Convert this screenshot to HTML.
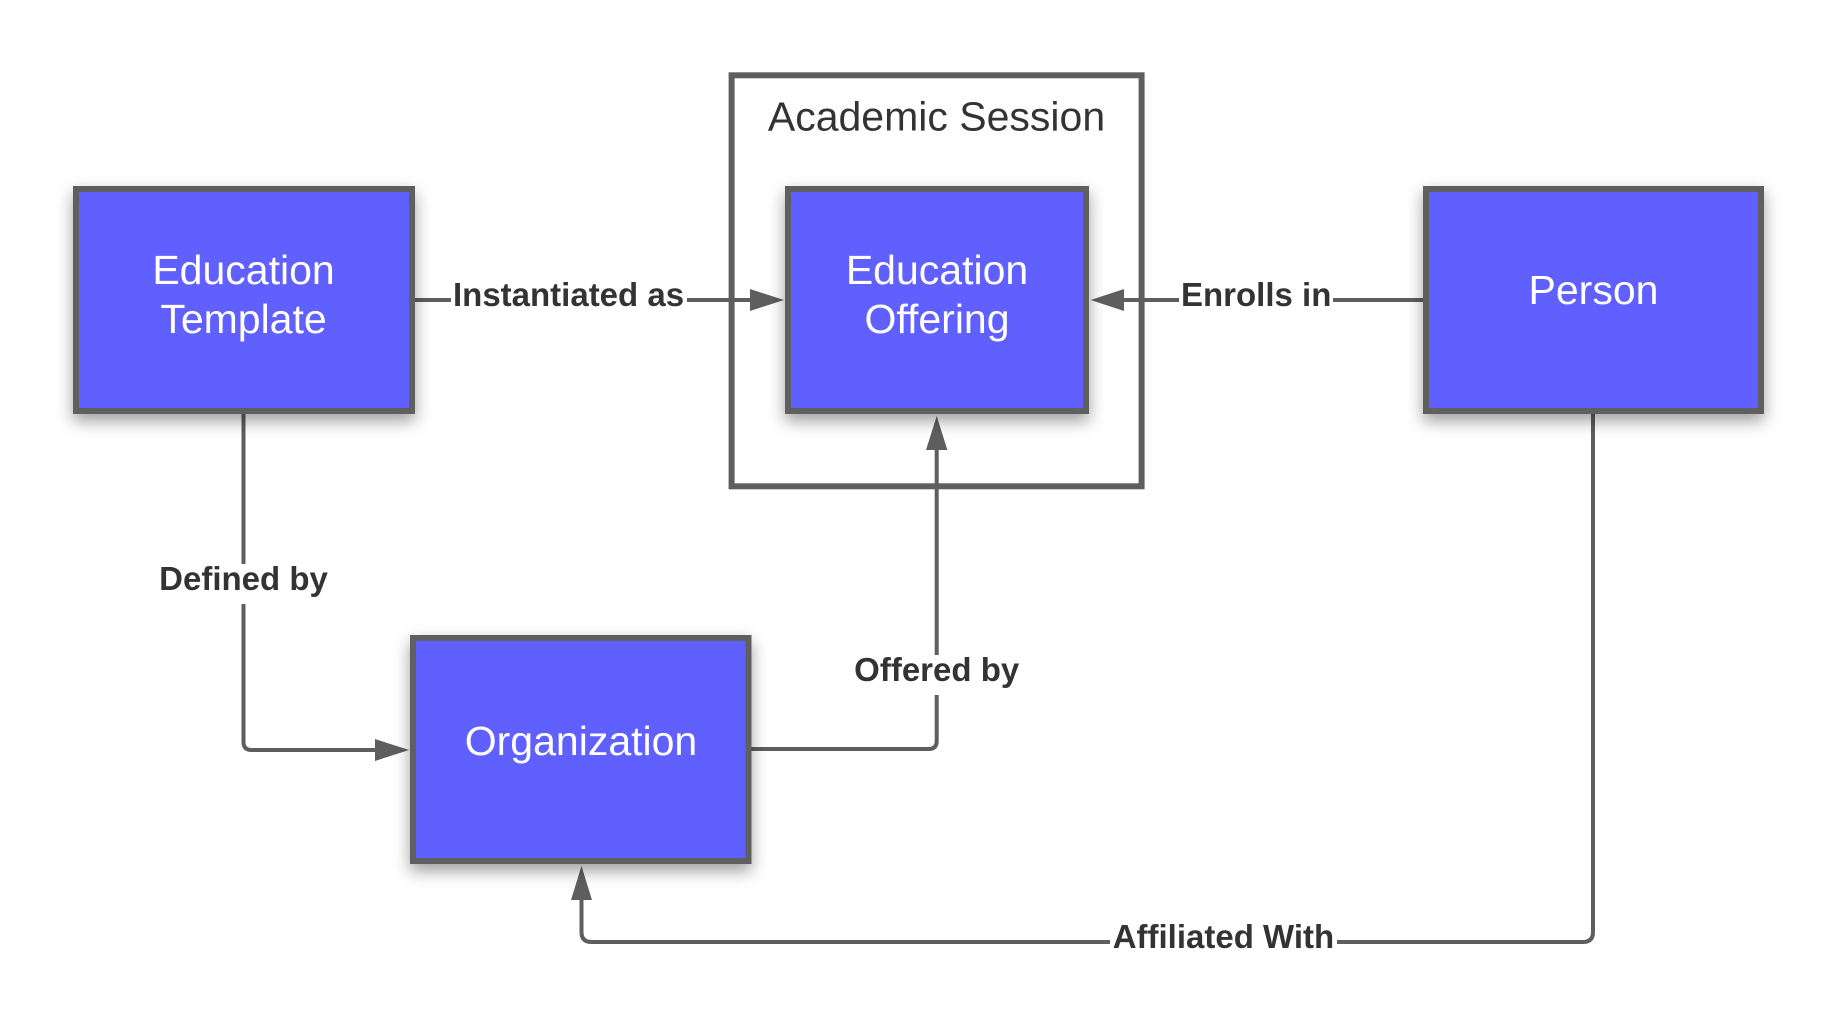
<!DOCTYPE html>
<html>
<head>
<meta charset="utf-8">
<style>
  html, body { margin:0; padding:0; background:#ffffff; }
  body { width:1838px; height:1035px; overflow:hidden; }
  svg { display:block; }
  .node { font-family:"Liberation Sans", Arial, sans-serif; font-size:41px; fill:#ffffff; }
  .lbl { font-family:"Liberation Sans", Arial, sans-serif; font-size:33px; font-weight:bold; fill:#333333; }
  .title { font-family:"Liberation Sans", Arial, sans-serif; font-size:41px; fill:#333333; }
</style>
</head>
<body>
<svg width="1838" height="1035" viewBox="0 0 1838 1035" xmlns="http://www.w3.org/2000/svg">
  <defs>
    <filter id="sh" x="-20%" y="-20%" width="140%" height="150%">
      <feDropShadow dx="0" dy="7" stdDeviation="8" flood-color="#000000" flood-opacity="0.38"/>
    </filter>
  </defs>
  <rect x="0" y="0" width="1838" height="1035" fill="#ffffff"/>

  <!-- Academic Session container -->
  <rect x="731.6" y="75.3" width="410" height="411" fill="none" stroke="#5e5e5e" stroke-width="6"/>
  <text class="title" x="936.5" y="130.7" text-anchor="middle">Academic Session</text>

  <!-- Connectors -->
  <g stroke="#5e5e5e" stroke-width="4" fill="none">
    <!-- Instantiated as -->
    <line x1="414" y1="300" x2="752" y2="300"/>
    <!-- Enrolls in -->
    <line x1="1423" y1="300" x2="1122" y2="300"/>
    <!-- Defined by -->
    <path d="M243.5 414 L243.5 742 Q243.5 750 251.5 750 L377 750"/>
    <!-- Offered by -->
    <path d="M751.5 749 L928.7 749 Q936.7 749 936.7 741 L936.7 448"/>
    <!-- Affiliated With -->
    <path d="M1593 414 L1593 932 Q1593 942 1583 942 L591.5 942 Q581.5 942 581.5 932 L581.5 898"/>
  </g>

  <!-- Arrowheads -->
  <g fill="#5e5e5e">
    <polygon points="784,300 750,289 750,311"/>
    <polygon points="1090.7,300 1124,289 1124,311"/>
    <polygon points="409,750 375,739 375,761"/>
    <polygon points="936.7,416 926,450 947.4,450"/>
    <polygon points="581.5,866 571,900 592,900"/>
  </g>

  <!-- Label backgrounds -->
  <g fill="#ffffff">
    <rect x="451" y="282" width="236" height="34"/>
    <rect x="1179" y="282" width="154" height="34"/>
    <rect x="156" y="564" width="175" height="40"/>
    <rect x="852" y="655" width="170" height="40"/>
    <rect x="1110" y="922" width="227" height="34"/>
  </g>

  <!-- Labels -->
  <text class="lbl" x="453" y="306">Instantiated as</text>
  <text class="lbl" x="1181" y="306">Enrolls in</text>
  <text class="lbl" x="243.5" y="590" text-anchor="middle">Defined by</text>
  <text class="lbl" x="936.7" y="681" text-anchor="middle">Offered by</text>
  <text class="lbl" x="1112.7" y="948">Affiliated With</text>

  <!-- Nodes -->
  <g filter="url(#sh)">
    <rect x="76" y="189" width="336" height="222" fill="#615eff" stroke="#5e5e5e" stroke-width="6"/>
  </g>
  <g filter="url(#sh)">
    <rect x="788" y="189" width="298" height="222" fill="#615eff" stroke="#5e5e5e" stroke-width="6"/>
  </g>
  <g filter="url(#sh)">
    <rect x="1426" y="189" width="335" height="222" fill="#615eff" stroke="#5e5e5e" stroke-width="6"/>
  </g>
  <g filter="url(#sh)">
    <rect x="413" y="638" width="335.5" height="223" fill="#615eff" stroke="#5e5e5e" stroke-width="6"/>
  </g>

  <text class="node" x="243.5" y="284" text-anchor="middle">Education</text>
  <text class="node" x="243.5" y="333" text-anchor="middle">Template</text>

  <text class="node" x="937" y="284" text-anchor="middle">Education</text>
  <text class="node" x="937" y="333" text-anchor="middle">Offering</text>

  <text class="node" x="1593.5" y="304" text-anchor="middle">Person</text>

  <text class="node" x="581" y="755" text-anchor="middle">Organization</text>
</svg>
</body>
</html>
